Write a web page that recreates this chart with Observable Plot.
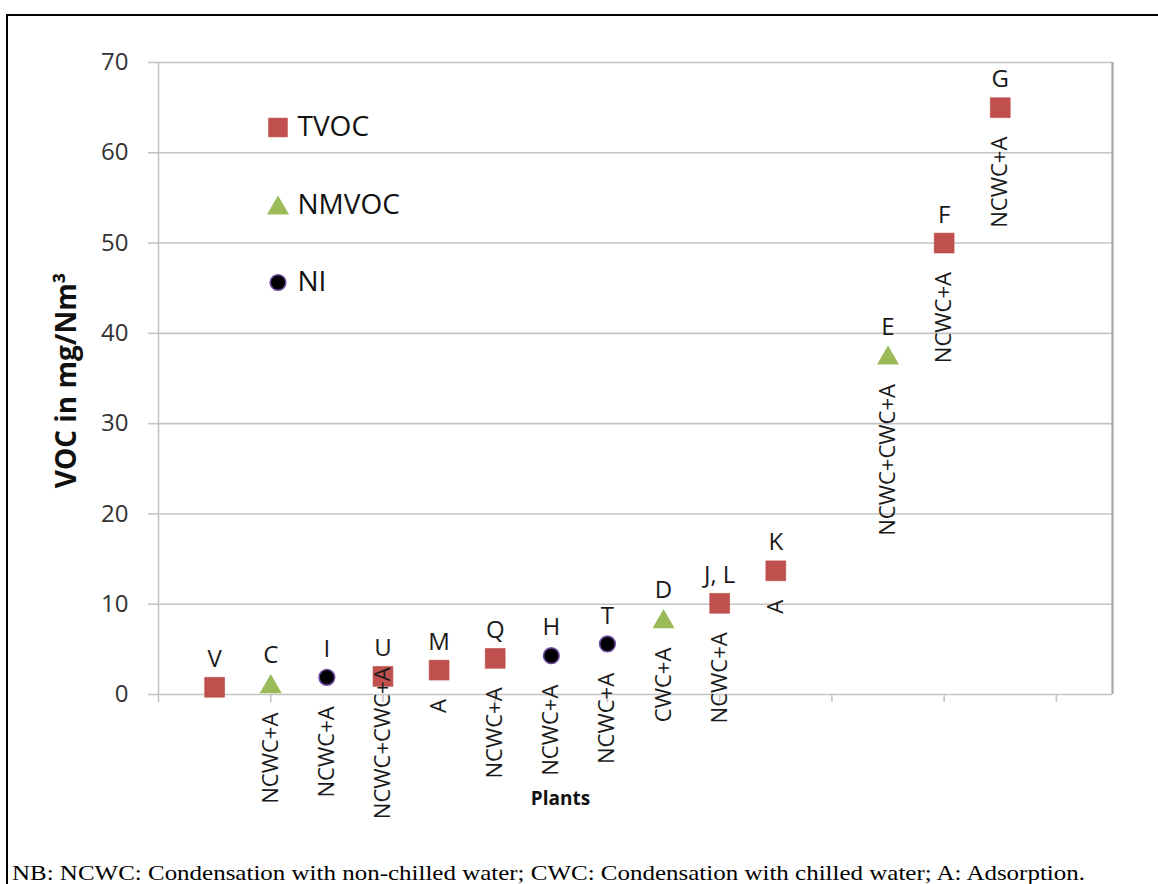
<!DOCTYPE html>
<html><head><meta charset="utf-8">
<script src="https://cdn.jsdelivr.net/npm/d3@7"></script>
<script src="https://cdn.jsdelivr.net/npm/@observablehq/plot@0.6"></script>
<style>
body{margin:0;background:#fff;}
#wrap{position:relative;width:1158px;height:884px;overflow:hidden;background:#fff;}
#frame{position:absolute;left:6px;top:14px;width:1200px;height:1000px;border:2px solid #000;box-sizing:border-box;pointer-events:none;}
#chart{position:absolute;left:0;top:0;}
#note{position:absolute;left:12px;top:862px;font-family:"Liberation Serif","Times New Roman",serif;font-size:22px;line-height:1;white-space:nowrap;transform-origin:0 0;color:#000;}
</style></head><body>
<div id="wrap"><div id="chart"></div><div id="frame"></div>
<div id="note">NB: NCWC: Condensation with non-chilled water; CWC: Condensation with chilled water; A: Adsorption.</div></div>
<script>
// ---- data ----
const plants = ["V","C","I","U","M","Q","H","T","D","J, L","K","E","F","G"];
const plantX = [1,2,3,4,5,6,7,8,9,10,11,13,14,15];
const vocValues = [0.8,1.2,1.9,2.0,2.7,4.0,4.3,5.6,8.4,10.1,13.7,37.6,50.0,65.0];
const vocType = ["TVOC","NMVOC","NI","TVOC","TVOC","TVOC","NI","NI","NMVOC","TVOC","TVOC","NMVOC","TVOC","TVOC"];
const process = ["","NCWC+A","NCWC+A","NCWC+CWC+A","A","NCWC+A","NCWC+A","NCWC+A","CWC+A","NCWC+A","A","NCWC+CWC+A","NCWC+A","NCWC+A"];
const legendNames = ["TVOC","NMVOC","NI"];
const yTicks = [0,10,20,30,40,50,60,70];
const xTicks = [0,2,4,6,8,10,12,14,16];

const rows = plants.map((p,i)=>({plant:p, x:plantX[i], v:vocValues[i], type:vocType[i], proc:process[i]}));

const red = "#c0504d", green = "#9bbb59";
const gridC = "#c4c4c4";
const font = "'Open Sans', sans-serif";
const symStyle = {
  TVOC:  {symbol:"square",   r:11.2, fill:red, stroke:"#b84845", strokeWidth:0.6, dy:0},
  NMVOC: {symbol:"triangle", r:8.2,  fill:green, dy:3.2},
  NI:    {symbol:"circle",   r:7.8,  fill:"#000", stroke:"#6a4a9c", strokeWidth:1.6, dy:0}
};

const legendMarks = legendNames.flatMap((name,i)=>{
  const s = symStyle[name];
  const base = 65 + i*77.5;
  return [
    Plot.dot([name], {frameAnchor:"top-left", dx:119.5, ...s, r: name==="TVOC"?10.6:s.r, dy: base + (s.dy||0)}),
    Plot.text([name], {frameAnchor:"top-left", dx:139, dy:base, text:d=>d, textAnchor:"start", lineAnchor:"middle", fontSize:28, fill:"#111"})
  ];
});

const chart = Plot.plot({
  width:1158, height:850,
  marginLeft:158, marginRight:46, marginTop:62, marginBottom:156,
  style:{fontFamily:font, background:"transparent", overflow:"visible"},
  x:{domain:[0,17], axis:null},
  y:{domain:[0,70], axis:null},
  marks:[
    Plot.gridY(yTicks, {stroke:gridC, strokeOpacity:1, strokeWidth:1.6}),
    Plot.axisY(yTicks, {tickSize:10, tickPadding:20, stroke:gridC, strokeWidth:1.6, fill:"#333", fontSize:24, label:null}),
    Plot.axisX(xTicks, {tickSize:8, tickFormat:()=>"", stroke:gridC, strokeWidth:1.6, label:null}),
    Plot.ruleX([0], {y1:0, y2:70, stroke:gridC, strokeWidth:1.6}),
    Plot.ruleX([17], {y1:0, y2:70, stroke:"#a8a8a8", strokeWidth:2.2}),
    ...legendNames.map(t => Plot.dot(rows.filter(d=>d.type===t), {x:"x", y:"v", ...symStyle[t]})),
    Plot.text(rows, {x:"x", y:"v", text:"plant", dy:-28, fontSize:24, fill:"#1a1a1a"}),
    Plot.text(rows.filter(d=>d.proc && d.plant!=="U"), {x:"x", y:"v", text:"proc", rotate:-90, textAnchor:"end", dy:29, fontSize:22, fill:"#1a1a1a"}),
    Plot.text(rows.filter(d=>d.plant==="U"), {x:"x", y:"v", text:"proc", rotate:-90, textAnchor:"end", dy:-9, fontSize:22, fill:"#1a1a1a"}),
    ...legendMarks,
    Plot.text(["VOC in mg/Nm³"], {frameAnchor:"left", dx:-91, dy:2, rotate:-90, textAnchor:"middle", lineAnchor:"middle", text:d=>d, fontSize:28, fontWeight:"bold", fill:"#111"}),
    Plot.text(["Plants"], {frameAnchor:"bottom", dx:-75, dy:104, textAnchor:"middle", lineAnchor:"middle", text:d=>d, fontSize:19, fontWeight:"bold", fill:"#111"})
  ]
});
document.getElementById("chart").appendChild(chart);

const note = document.getElementById("note");
const w = note.getBoundingClientRect().width;
note.style.transform = `scaleX(${1073 / w})`;
</script>
</body></html>
